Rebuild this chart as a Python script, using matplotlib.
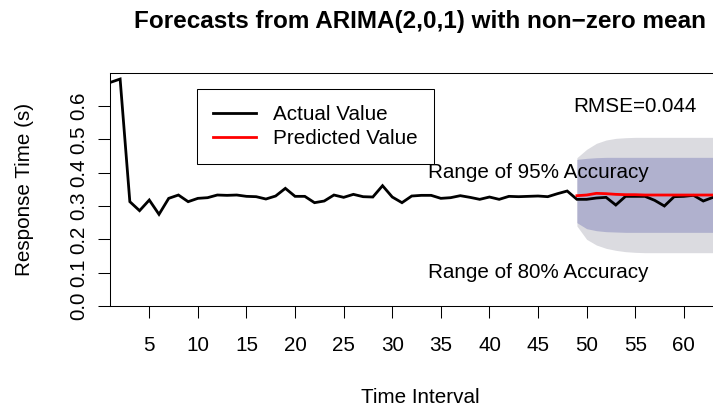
import numpy as np
import matplotlib
matplotlib.use("Agg")
import matplotlib.pyplot as plt

plt.rcParams['font.family'] = ['Liberation Sans', 'DejaVu Sans']

# ---- data ----
actual = [0.671, 0.681, 0.313, 0.286, 0.318, 0.275, 0.323, 0.333, 0.313, 0.323,
          0.325, 0.333, 0.332, 0.333, 0.329, 0.328, 0.321, 0.330, 0.353, 0.329,
          0.329, 0.310, 0.315, 0.333, 0.326, 0.335, 0.328, 0.327, 0.361, 0.327,
          0.310, 0.330, 0.332, 0.332, 0.323, 0.325, 0.331, 0.326, 0.320, 0.327,
          0.320, 0.329, 0.328, 0.329, 0.330, 0.328, 0.337, 0.345,
          0.320, 0.320, 0.324, 0.326, 0.303, 0.329, 0.329, 0.329, 0.317, 0.300,
          0.328, 0.329, 0.332, 0.315, 0.326]
time_actual = list(range(1, len(actual) + 1))

time_fc = list(range(49, 64))
forecast_mean = [0.331, 0.333, 0.338, 0.337, 0.335, 0.334, 0.334, 0.333, 0.333,
                 0.333, 0.333, 0.333, 0.333, 0.333, 0.333]
upper95 = [0.445, 0.470, 0.488, 0.498, 0.503, 0.505, 0.506, 0.506, 0.506, 0.506,
           0.506, 0.506, 0.506, 0.506, 0.506]
lower95 = [0.240, 0.200, 0.183, 0.173, 0.167, 0.163, 0.161, 0.160, 0.160, 0.160,
           0.160, 0.160, 0.160, 0.160, 0.160]
upper80 = [0.440, 0.443, 0.445, 0.446, 0.446, 0.446, 0.446, 0.446, 0.446, 0.446,
           0.446, 0.446, 0.446, 0.446, 0.446]
lower80 = [0.250, 0.232, 0.226, 0.223, 0.222, 0.221, 0.221, 0.221, 0.221, 0.221,
           0.221, 0.221, 0.221, 0.221, 0.221]

x_ticks = [5, 10, 15, 20, 25, 30, 35, 40, 45, 50, 55, 60]
y_ticks = [0.0, 0.1, 0.2, 0.3, 0.4, 0.5, 0.6]
y_tick_labels = ["0.0", "0.1", "0.2", "0.3", "0.4", "0.5", "0.6"]

title = "Forecasts from ARIMA(2,0,1) with non\u2212zero mean"
rmse_text = "RMSE=0.044"

# ---- figure ----
W, H = 713, 407
fig = plt.figure(figsize=(W / 100, H / 100), dpi=100)
left_px, right_px, top_px, bottom_px = 110.4, 730.0, 72.7, 306.0
ax = fig.add_axes([left_px / W, 1 - bottom_px / H,
                   (right_px - left_px) / W, (bottom_px - top_px) / H])

light = "#DBDBE0"
dark = "#B0B1CE"
ax.fill_between(time_fc, lower95, upper95, color=light, lw=0, zorder=1)
ax.fill_between(time_fc, lower80, upper80, color=dark, lw=0, zorder=2)
ax.plot(time_actual, actual, color="black", lw=2.0, zorder=3,
        solid_joinstyle="miter", label="Actual Value")
ax.plot(time_fc, forecast_mean, color="red", lw=2.0, zorder=4,
        label="Predicted Value")

ax.set_xlim(1, 64.75)
ax.set_ylim(0, 0.7)

fs = 14.9
ax.set_xticks(x_ticks)
ax.set_xticklabels([str(v) for v in x_ticks], fontsize=fs)
ax.set_yticks(y_ticks)
ax.set_yticklabels(y_tick_labels, fontsize=fs, rotation=90, va="center")
ax.tick_params(direction="out", length=8.8, width=0.75, color="black")
ax.tick_params(axis="x", pad=13)
ax.tick_params(axis="y", pad=7.5)
for s in ax.spines.values():
    s.set_linewidth(0.75)
    s.set_color("black")

ax.text(55, 0.6, rmse_text, fontsize=fs, ha="center", va="center")
ax.text(45, 0.4, "Range of 95% Accuracy", fontsize=fs, ha="center", va="center")
ax.text(45, 0.1, "Range of 80% Accuracy", fontsize=fs, ha="center", va="center")

leg = ax.legend(loc="upper left", bbox_to_anchor=(197.3 / W, 1 - 89 / H),
                bbox_transform=fig.transFigure, borderaxespad=0,
                fontsize=fs, frameon=True, fancybox=False, framealpha=1,
                edgecolor="black", borderpad=0.78, handlelength=2.05,
                handletextpad=0.85, labelspacing=0.25)
leg.get_frame().set_linewidth(0.75)

fig.text(420 / W, 1 - 28.3 / H, title, fontsize=17.5, fontweight="bold",
         ha="center", va="baseline")
fig.text(420 / W, 1 - 403 / H, "Time Interval", fontsize=fs,
         ha="center", va="baseline")
fig.text(25 / W, 1 - 189.3 / H, "Response Time (s)", fontsize=fs,
         rotation=90, ha="center", va="center")

fig.savefig("out.png", dpi=100)
